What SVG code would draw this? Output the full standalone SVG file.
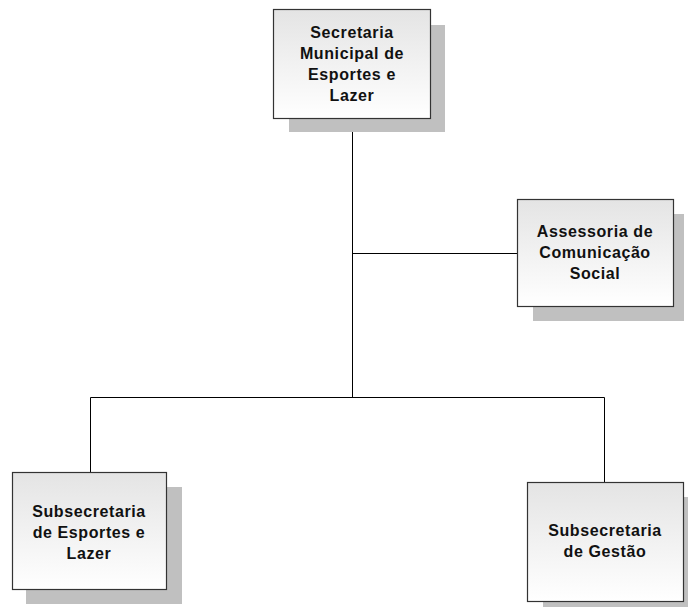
<svg xmlns="http://www.w3.org/2000/svg" width="689" height="609" viewBox="0 0 689 609">
<defs>
<linearGradient id="g" x1="0" y1="0" x2="0" y2="1">
<stop offset="0" stop-color="#e4e4e4"/>
<stop offset="1" stop-color="#ffffff"/>
</linearGradient>
</defs>
<style>
.sh{fill:#c0c0c0}
.bx{fill:url(#g);stroke:#333;stroke-width:1.2}
.t{font-family:"Liberation Sans",Arial,sans-serif;font-weight:bold;font-size:16px;letter-spacing:0.6px;fill:#111;text-anchor:middle}
.c{stroke:#000;stroke-width:1;fill:none}
</style>
<rect width="689" height="609" fill="#fff"/>
<g id="connectors">
<path class="c" d="M352.5 118V397.5M352.5 253.5H517M90.5 472V397.5H604.5V482"/>
</g>
<g id="n1">
<rect class="sh" x="289" y="25" width="156" height="107"/>
<rect class="bx" x="273.5" y="9.5" width="157" height="109"/>
<text class="t" x="352" y="38">Secretaria</text>
<text class="t" x="352" y="59">Municipal de</text>
<text class="t" x="352" y="80">Esportes e</text>
<text class="t" x="352" y="101">Lazer</text>
</g>
<g id="n2">
<rect class="sh" x="533" y="214" width="151" height="107"/>
<rect class="bx" x="517.5" y="199.5" width="156" height="107"/>
<text class="t" x="595" y="237">Assessoria de</text>
<text class="t" x="595" y="258">Comunicação</text>
<text class="t" x="595" y="279">Social</text>
</g>
<g id="n3">
<rect class="sh" x="26" y="487" width="156" height="117"/>
<rect class="bx" x="12.5" y="472.5" width="154" height="117"/>
<text class="t" x="89" y="517">Subsecretaria</text>
<text class="t" x="89" y="538">de Esportes e</text>
<text class="t" x="89" y="559">Lazer</text>
</g>
<g id="n4">
<rect class="sh" x="543" y="497" width="145" height="110"/>
<rect class="bx" x="527.5" y="482.5" width="156" height="119"/>
<text class="t" x="605" y="536">Subsecretaria</text>
<text class="t" x="605" y="557">de Gestão</text>
</g>
</svg>
